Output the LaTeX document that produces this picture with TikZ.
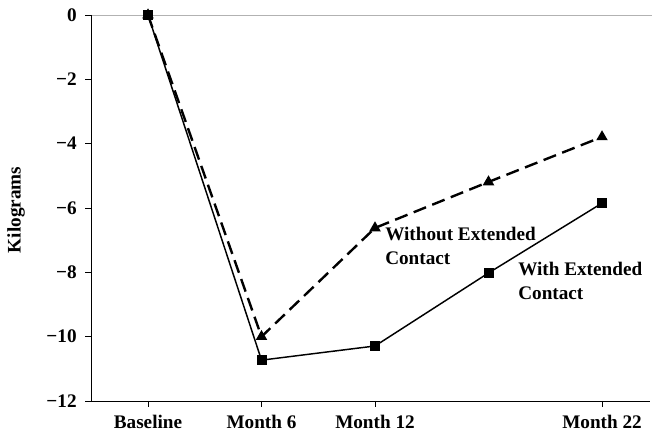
\documentclass[tikz,border=0pt]{standalone}
\usepackage{fontspec}
\setmainfont{Liberation Serif}
\usetikzlibrary{shapes.geometric}

\begin{document}
\begin{tikzpicture}[x=85.125pt,y=24.125pt,
    font=\bfseries\fontsize{14.4}{18}\selectfont,
    sq/.style={fill=black,minimum size=7.5pt,inner sep=0pt},
    tri/.style={regular polygon,regular polygon sides=3,fill=black,minimum size=10pt,inner sep=0pt}]
    \useasboundingbox (-1.304,-12.994) rectangle (4.4405,0.466);

    % 绘制坐标轴
    \draw[gray!60, line width=0.7pt] (-0.555,0) -- (4.4405,0);
    \draw[line width=0.6pt] (-0.502,0) -- (-0.502,-12) -- (4.42,-12);
    \foreach \v/\t in {0/0,-2/−2,-4/−4,-6/−6,-8/−8,-10/−10,-12/−12}
        \draw[line width=0.6pt] (-0.502,\v) -- (-0.555,\v) node[anchor=east,inner sep=0pt,xshift=-6pt] {\t};
    \foreach \i/\t in {0/Baseline,1/Month 6,2/Month 12,4/Month 22}
        \draw[line width=0.6pt] (\i,-12) -- (\i,-12.19) node[anchor=north,inner sep=0pt,yshift=-6pt] {\t};
    \node[rotate=90] (ylab) at (-1.163,-6.06) {Kilograms};

    % 数据点
    \foreach \i/\w/\e in {0/0/0,1/-10.0/-10.73,2/-6.62/-10.29,3/-5.19/-8.02,4/-3.79/-5.85}{
        \coordinate (w\i) at (\i,\w);
        \coordinate (e\i) at (\i,\e);
    }
    \draw[line width=1.8pt, dash pattern=on 10pt off 5pt] (w0) -- (w1) -- (w2) -- (w3) -- (w4);
    \draw[line width=1.1pt] (e0) -- (e1) -- (e2) -- (e3) -- (e4);
    \foreach \i in {0,...,4}{
        \node[tri] (tw\i) at (w\i) {};
        \node[sq] (se\i) at (e\i) {};
    }

    \node[anchor=west,align=left,inner sep=0pt] (lbw) at (2.088,-7.18) {Without Extended\\Contact};
    \node[anchor=west,align=left,inner sep=0pt] (lbe) at (3.26,-8.28) {With Extended\\Contact};
\end{tikzpicture}
\end{document}
